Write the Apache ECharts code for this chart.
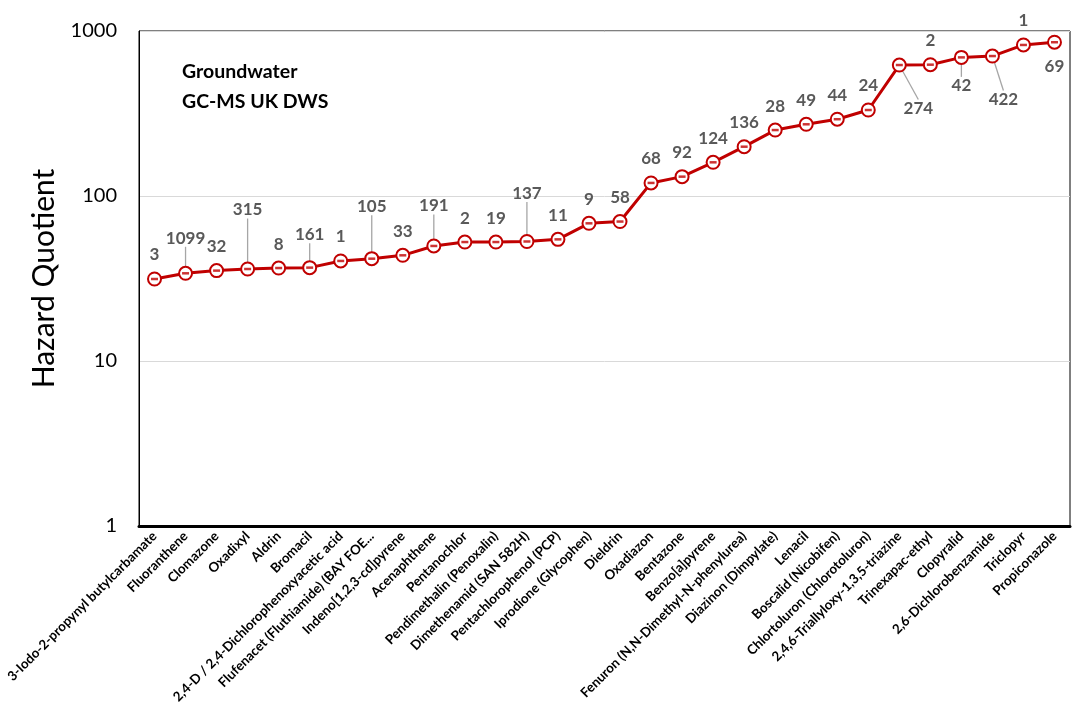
<!DOCTYPE html>
<html><head><meta charset="utf-8">
<script src="https://cdn.jsdelivr.net/npm/echarts@6/dist/echarts.min.js"></script>
<style>html,body{margin:0;padding:0;background:#fff}#c{width:1072px;height:706px}</style>
</head><body><div id="c"></div>
<script>
const categories = ["3-Iodo-2-propynyl butylcarbamate","Fluoranthene","Clomazone","Oxadixyl","Aldrin","Bromacil","2,4-D / 2,4-Dichlorophenoxyacetic acid","Flufenacet (Fluthiamide) (BAY FOE...","Indeno[1,2,3-cd]pyrene","Acenaphthene","Pentanochlor","Pendimethalin (Penoxalin)","Dimethenamid (SAN 582H)","Pentachlorophenol (PCP)","Iprodione (Glycophen)","Dieldrin","Oxadiazon","Bentazone","Benzo[a]pyrene","Fenuron (N,N-Dimethyl-N-phenylurea)","Diazinon (Dimpylate)","Lenacil","Boscalid (Nicobifen)","Chlortoluron (Chlorotoluron)","2,4,6-Triallyloxy-1,3,5-triazine","Trinexapac-ethyl","Clopyralid","2,6-Dichlorobenzamide","Triclopyr","Propiconazole"];
const hazardQuotient = [31.4,34,35.3,36.1,36.6,36.8,40.4,41.7,43.7,49.8,52.6,52.6,53,54.6,68.3,70,120,131,160,199,251,272,292,332,622,625,692,705,823,855];
const pointLabels = [3,1099,32,315,8,161,1,105,33,191,2,19,137,11,9,58,68,92,124,136,28,49,44,24,274,2,42,422,1,69];
const yTicks = [1,10,100,1000];
const titleLines = ["Groundwater","GC-MS UK DWS"];

// label placement tweaks (styling only)
const labelShift = {1:[0,-11,1],3:[0,-35,1],5:[0,-9,1],7:[0,-28,1],9:[0,-16,1],12:[0,-24,1],24:[19,67,1],26:[0,52,1],27:[11,67,1],29:[0,48,0]};

const seriesData = hazardQuotient.map((v,i)=>{
  const s = labelShift[i];
  return {value:v, labelLine:{show: !!(s && s[2])}};
});

const chart = echarts.init(document.getElementById('c'), null, {renderer:'canvas'});
chart.setOption({
  animation:false,
  title:{text:titleLines.join('\n'), left:177, top:52,
    textStyle:{fontFamily:'Lato', fontWeight:'bold', fontSize:19.5, color:'#000', lineHeight:30}},
  grid:{left:139, right:2, top:31, bottom:180, show:true, borderColor:'#000', borderWidth:1},
  xAxis:{type:'category', data:categories, boundaryGap:true,
    axisLine:{lineStyle:{color:'#000', width:3}}, axisTick:{show:false},
    axisLabel:{interval:0, rotate:45, margin:8, fontFamily:'Lato', fontWeight:'bold', fontSize:13.3, color:'#000'}},
  yAxis:{type:'log', logBase:10, min:yTicks[0], max:yTicks[yTicks.length-1],
    name:'Hazard Quotient', nameLocation:'middle', nameGap:78,
    nameTextStyle:{fontFamily:'Lato', fontSize:30, color:'#000'},
    axisLine:{show:true, lineStyle:{color:'#000', width:1}}, axisTick:{show:false},
    axisLabel:{margin:22, fontFamily:'Lato', fontSize:20, color:'#000', formatter:v=>String(Math.round(v))},
    splitLine:{lineStyle:{color:'#D9D9D9', width:1}}},
  series:[{
    type:'line', data:seriesData,
    lineStyle:{color:'#C00000', width:3},
    symbol:'emptyCircle', symbolSize:13,
    itemStyle:{color:'#C00000', borderColor:'#C00000', borderWidth:4},
    label:{show:true, position:'top', distance:8, fontFamily:'Lato', fontWeight:'bold', fontSize:17, color:'#595959',
      formatter:p=>String(pointLabels[p.dataIndex])},
    labelLine:{show:false, lineStyle:{color:'#A6A6A6', width:1.3}},
    labelLayout:p=>{const s=labelShift[p.dataIndex]; return s?{dx:s[0],dy:s[1]}:{};},
    z:2
  },{
    type:'scatter', data:hazardQuotient, symbol:'rect', symbolSize:[7,2.5],
    itemStyle:{color:'#C00000'}, silent:true, z:3
  }]
});
</script></body></html>
